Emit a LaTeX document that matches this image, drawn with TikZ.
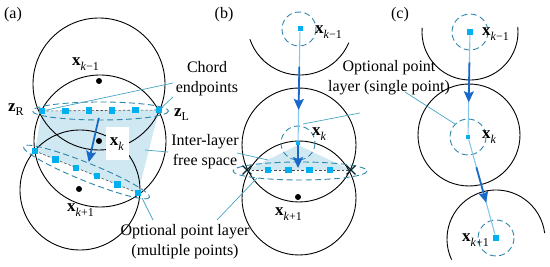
\documentclass[tikz,border=0pt]{standalone}
\usepackage{fontspec}
\setmainfont{Liberation Serif}
\usetikzlibrary{positioning,arrows.meta,calc,shapes.misc}

\definecolor{ptblue}{RGB}{0,176,240}
\definecolor{ringblue}{RGB}{48,134,170}
\definecolor{leadblue}{RGB}{70,165,195}
\definecolor{gapfill}{RGB}{208,232,242}
\definecolor{stepblue}{RGB}{25,105,200}
\definecolor{pathblue}{RGB}{130,200,235}

\newcommand{\vx}[1]{{\fontsize{17}{17}\selectfont\textbf{x}}\raisebox{-5pt}{\fontsize{12}{12}\selectfont #1}}
\newcommand{\vz}[1]{{\fontsize{17}{17}\selectfont\textbf{z}}\raisebox{-4pt}{\fontsize{12}{12}\selectfont #1}}

\begin{document}
\begin{tikzpicture}[x=1pt, y=-1pt, >=Stealth, font=\fontsize{16}{20}\selectfont,
      orbit/.style={draw, line width=0.9pt},
      ring/.style={draw=ringblue, line width=0.9pt, dash pattern=on 6pt off 3.5pt},
      chord/.style={draw=black!70, line width=0.6pt, dash pattern=on 2.5pt off 2pt},
      gap/.style={fill=gapfill},
      pt/.style={rectangle, fill=ptblue, inner sep=0pt, minimum size=6.5pt},
      xmark/.style={cross out, draw=black!80!ptblue, line width=1.4pt, inner sep=0pt, minimum size=7.5pt},
      dot/.style={circle, fill, inner sep=0pt, minimum size=6pt},
      lead/.style={draw=leadblue, line width=0.7pt},
      track/.style={draw=pathblue, line width=1.1pt},
      hop/.style={draw=stepblue, line width=1.8pt, -{Stealth[length=11pt, width=10pt, inset=2pt]}},
      lbl/.style={anchor=base west, inner sep=0pt}]
  \useasboundingbox (0,0) rectangle (550,267);

  % (a) two point layers on the chords
  \coordinate (zr) at (42,111); \coordinate (zl) at (159,110);
  \coordinate (wl) at (35,151); \coordinate (wr) at (138,193);
  \fill[gap] (zr) -- (zl) -- (wr) -- (wl) -- cycle;
  \draw[orbit] (99,84) circle (66);
  \draw[orbit] (100,141) circle (66);
  \draw[orbit] (80,190) circle (60);
  \node[dot] (da1) at (99,81) {};
  \node[dot] (da2) at (99,141) {};
  \node[dot] (da3) at (79,189) {};
  \node[lbl] (xa1) at (72,66) {\vx{\textit{k}−1}};
  \node[fill=white, inner sep=0pt, minimum width=23pt, minimum height=33pt] (xa2) at (117,144) {\vx{\textit{k}}};
  \node[lbl] (xa3) at (67,212) {\vx{\textit{k}+1}};
  \draw[chord] (zr) -- (zl);
  \draw[chord] (wl) -- (wr);
  \draw[ring] (100.5,111) ellipse [x radius=68, y radius=9];
  \draw[ring, rotate around={-22:(86.5,172)}] (86.5,172) ellipse [x radius=68, y radius=9];
  \foreach \i in {0,...,5} {
    \node[pt] (u\i) at ($(zr)!\i/5!(zl)$) {};
    \node[pt] (l\i) at ($(wl)!\i/5!(wr)$) {};
  }
  \coordinate (um) at ($(zr)!.5!(zl)$); \coordinate (lm) at ($(wl)!.5!(wr)$);
  \draw[hop] ($(um)!.12!(lm)$) -- ($(um)!.84!(lm)$);
  \node (pa) at (13,15) {(a)};
  \node[lbl] (zrl) at (8,112) {\vz{R}};
  \node[lbl] (zll) at (174,117) {\vz{L}};

  % (b) single point on the upper layer
  \coordinate (bl) at (247,170); \coordinate (br) at (351,170);
  \coordinate (bt) at (298,145);
  \fill[gap] (bt) -- (bl) -- (br) -- cycle;
  \draw[orbit] (300,22) ++(161:53) arc[start angle=161, end angle=23, radius=53];
  \draw[orbit] (299,145) circle (57);
  \draw[orbit] (299,198) circle (57);
  \node[dot] (db) at (298,197) {};
  \draw[ring] (299,29) circle (17);
  \draw[ring] (298,143) circle (17);
  \draw[chord] (bl) -- (br);
  \draw[ring] (300,171) ellipse [x radius=67, y radius=9];
  \node[pt, minimum size=5pt] (bu) at (300,29) {};
  \node[pt, minimum size=4.5pt] (bk) at (298,143) {};
  \foreach \i in {1,...,4}
    \node[pt] (bp\i) at ($(bl)!\i/5!(br)$) {};
  \node[xmark] (bx0) at (bl) {};
  \node[xmark] (bx5) at (br) {};
  \draw[track] (bu) -- (bk);
  \draw[hop] ($(bu)!.33!(bk)$) -- ($(bu)!.71!(bk)$);
  \draw[hop] (bk) -- ($(bk)+(0,25)$);
  \node (pb) at (224,15) {(b)};
  \node[lbl] (xb1) at (315,34) {\vx{\textit{k}−1}};
  \node[lbl] (xb2) at (312,136) {\vx{\textit{k}}};
  \node[lbl] (xb3) at (275,216) {\vx{\textit{k}+1}};

  % (c) one point per layer
  \draw[orbit] (470,32) ++(185:48) arc[start angle=185, end angle=-6, radius=48];
  \draw[orbit] (469,135) circle (51);
  \draw[orbit] (496,239) ++(155:49) arc[start angle=155, end angle=353, radius=49];
  \draw[ring] (470,32) circle (18);
  \draw[ring] (468,137) circle (18);
  \draw[ring] (496,238) circle (18);
  \node[pt, minimum size=5.5pt] (cu) at (470,32) {};
  \node[pt, minimum size=4.5pt] (ck) at (468,137) {};
  \node[pt, minimum size=6.5pt] (cn) at (496,238) {};
  \draw[track] (cu) -- (ck) -- (cn);
  \draw[hop] ($(cu)!.29!(ck)$) -- ($(cu)!.67!(ck)$);
  \draw[hop] ($(ck)!.30!(cn)$) -- ($(ck)!.65!(cn)$);
  \node (pc) at (400,15) {(c)};
  \node[lbl] (xc1) at (482,36) {\vx{\textit{k}−1}};
  \node[lbl] (xc2) at (482,139) {\vx{\textit{k}}};
  \node[lbl] (xc3) at (462,242) {\vx{\textit{k}+1}};

  % callouts
  \node[align=center] (chd) at (207,79) {Chord\\endpoints};
  \node[align=center] (free) at (205,152) {Inter-layer\\free space};
  \node[align=center] (multi) at (185,242) {Optional point layer\\(multiple points)};
  \node[align=center] (single) at (389,78) {Optional point\\layer (single point)};
  \coordinate (c1) at (173,83); \coordinate (c2) at (173,97);
  \coordinate (f1) at (168,152); \coordinate (fa) at (145,150);
  \coordinate (f2) at (237,153); \coordinate (fb) at (268,160);
  \coordinate (m1) at (153,220); \coordinate (ma) at (142,198);
  \coordinate (m2) at (217,220); \coordinate (mb) at (257,178);
  \coordinate (s1) at (360,113); \coordinate (sb) at (303,124);
  \coordinate (s2) at (405,92); \coordinate (sc) at (455,124);
  \draw[lead] (c1) -- (u0);
  \draw[lead] (c2) -- (u5);
  \draw[lead] (f1) -- (fa);
  \draw[lead] (f2) -- (fb);
  \draw[lead] (m1) -- (ma);
  \draw[lead] (m2) -- (mb);
  \draw[lead] (s1) -- (sb);
  \draw[lead] (s2) -- (sc);
\end{tikzpicture}
\end{document}
